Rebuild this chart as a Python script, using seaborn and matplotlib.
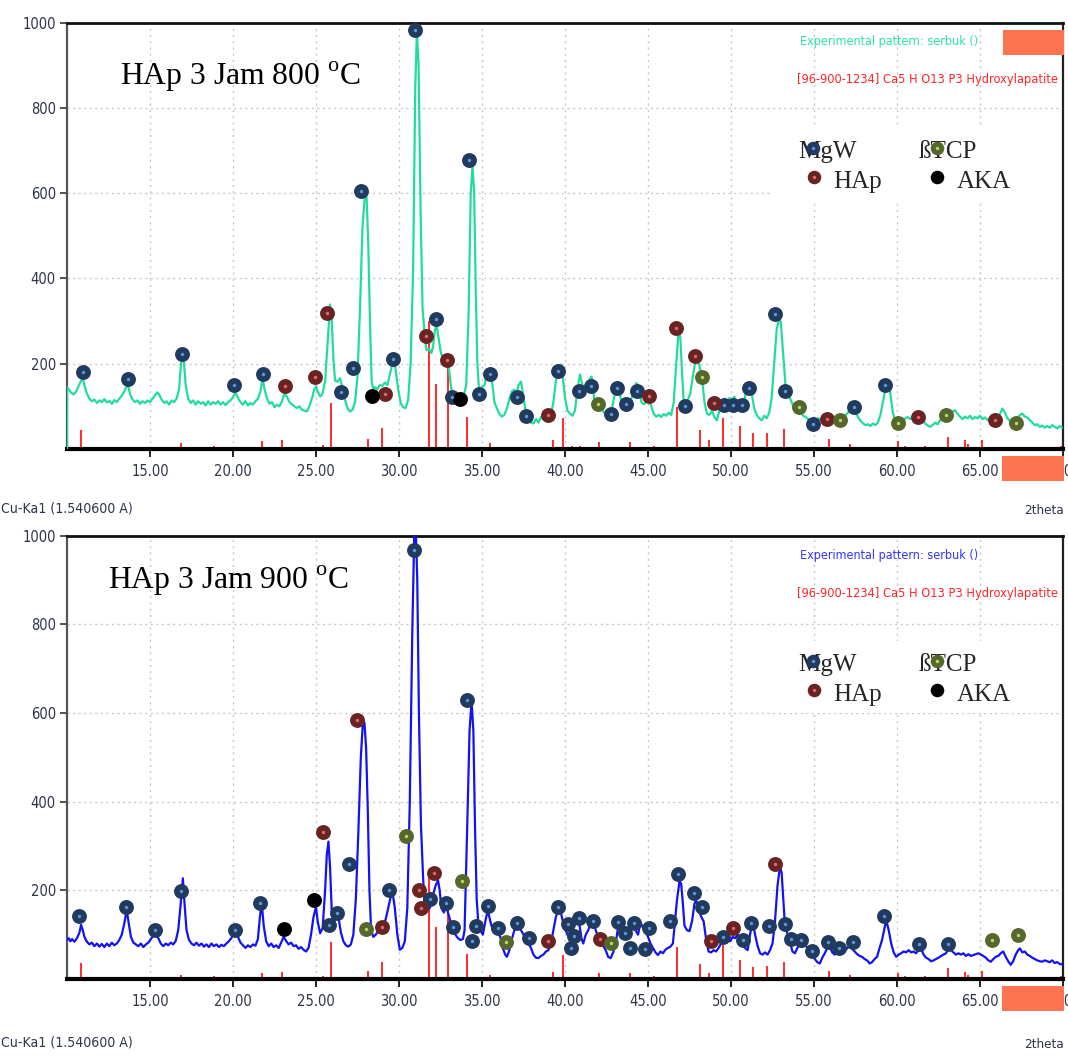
import matplotlib
matplotlib.use("Agg")
import matplotlib.pyplot as plt
import seaborn as sns
import pandas as pd
from matplotlib.patches import Rectangle
from matplotlib import font_manager
from matplotlib.font_manager import FontProperties

# ---------------------------------------------------------------- data
# Experimental pattern, 800 C (2theta, counts)
pattern_800 = [
    (10.00, 0), (10.01, 145), (10.10, 140), (10.25, 132), (10.40, 128), (10.55, 135),
    (10.70, 148), (10.85, 160), (10.95, 166), (11.05, 150), (11.20, 130), (11.35, 118),
    (11.50, 112), (11.65, 116), (11.80, 108), (11.95, 114), (12.10, 110), (12.25, 117),
    (12.40, 109), (12.55, 113), (12.70, 106), (12.85, 115), (13.00, 110), (13.15, 118),
    (13.30, 125), (13.45, 135), (13.60, 148), (13.70, 146), (13.80, 128), (13.95, 116),
    (14.10, 110), (14.25, 114), (14.40, 106), (14.55, 112), (14.70, 108), (14.85, 114),
    (15.00, 110), (15.15, 118), (15.30, 126), (15.45, 133), (15.55, 128), (15.70, 116),
    (15.85, 108), (16.00, 112), (16.15, 104), (16.30, 114), (16.45, 110), (16.60, 118),
    (16.75, 140), (16.85, 190), (16.95, 232), (17.05, 200), (17.15, 150), (17.30, 118),
    (17.45, 108), (17.60, 114), (17.75, 104), (17.90, 112), (18.05, 106), (18.20, 110),
    (18.35, 102), (18.50, 112), (18.65, 104), (18.80, 110), (18.95, 106), (19.10, 112),
    (19.25, 104), (19.40, 110), (19.55, 103), (19.70, 110), (19.85, 114), (20.00, 122),
    (20.15, 132), (20.30, 120), (20.45, 110), (20.60, 104), (20.75, 112), (20.90, 102),
    (21.05, 108), (21.20, 104), (21.35, 112), (21.50, 118), (21.65, 135), (21.78, 166),
    (21.90, 140), (22.05, 118), (22.20, 106), (22.35, 110), (22.50, 98), (22.65, 104),
    (22.80, 100), (22.95, 112), (23.10, 130), (23.25, 122), (23.40, 110), (23.55, 105),
    (23.70, 100), (23.85, 96), (24.00, 100), (24.15, 92), (24.30, 90), (24.45, 88),
    (24.60, 100), (24.75, 118), (24.90, 140), (25.00, 147), (25.10, 135), (25.25, 123),
    (25.40, 130), (25.55, 160), (25.70, 250), (25.85, 339), (25.95, 300), (26.05, 210),
    (26.15, 160), (26.30, 158), (26.45, 166), (26.60, 145), (26.75, 115), (26.90, 95),
    (27.05, 88), (27.20, 92), (27.35, 110), (27.50, 170), (27.65, 330), (27.80, 520),
    (27.95, 598), (28.05, 590), (28.15, 480), (28.25, 300), (28.35, 160), (28.45, 139),
    (28.55, 145), (28.70, 140), (28.85, 150), (29.00, 148), (29.15, 156), (29.30, 150),
    (29.45, 175), (29.60, 200), (29.70, 206), (29.80, 185), (29.95, 140), (30.10, 108),
    (30.25, 98), (30.40, 96), (30.55, 115), (30.70, 200), (30.85, 420), (30.98, 850),
    (31.08, 978), (31.18, 900), (31.30, 560), (31.42, 330), (31.55, 265), (31.65, 232),
    (31.80, 235), (31.95, 225), (32.05, 240), (32.15, 275), (32.25, 296), (32.35, 270),
    (32.50, 230), (32.65, 210), (32.85, 217), (33.00, 190), (33.15, 140), (33.30, 123),
    (33.45, 120), (33.60, 115), (33.75, 118), (33.90, 125), (34.05, 150), (34.20, 330),
    (34.32, 600), (34.43, 665), (34.53, 600), (34.62, 380), (34.72, 200), (34.82, 140),
    (35.00, 145), (35.15, 150), (35.30, 175), (35.45, 186), (35.60, 160), (35.75, 110),
    (35.90, 95), (36.05, 82), (36.20, 76), (36.35, 80), (36.50, 95), (36.65, 118),
    (36.80, 135), (36.95, 139), (37.05, 125), (37.20, 150), (37.35, 158), (37.50, 120),
    (37.65, 85), (37.80, 70), (37.95, 62), (38.10, 60), (38.25, 70), (38.40, 62),
    (38.55, 75), (38.70, 70), (38.85, 72), (39.00, 67), (39.15, 80), (39.30, 110),
    (39.45, 160), (39.60, 185), (39.75, 198), (39.85, 175), (40.00, 120), (40.15, 90),
    (40.30, 83), (40.45, 78), (40.60, 90), (40.75, 140), (40.90, 175), (41.05, 150),
    (41.20, 140), (41.35, 150), (41.50, 165), (41.60, 170), (41.75, 120), (41.90, 100),
    (42.05, 90), (42.20, 95), (42.35, 85), (42.50, 90), (42.65, 80), (42.80, 88),
    (42.95, 120), (43.10, 150), (43.25, 140), (43.40, 110), (43.55, 100), (43.70, 108),
    (43.85, 102), (44.00, 118), (44.15, 140), (44.30, 155), (44.45, 145), (44.60, 110),
    (44.75, 105), (44.90, 110), (45.05, 118), (45.20, 100), (45.35, 82), (45.50, 76),
    (45.65, 80), (45.80, 75), (45.95, 82), (46.10, 78), (46.25, 85), (46.40, 80),
    (46.55, 110), (46.70, 200), (46.85, 282), (46.95, 260), (47.05, 180), (47.15, 110),
    (47.25, 99), (47.40, 115), (47.55, 131), (47.70, 170), (47.85, 205), (47.97, 216),
    (48.10, 195), (48.25, 170), (48.40, 110), (48.55, 83), (48.70, 80), (48.85, 90),
    (49.00, 75), (49.15, 67), (49.30, 90), (49.45, 110), (49.60, 118), (49.75, 105),
    (49.90, 120), (50.05, 110), (50.20, 123), (50.35, 105), (50.50, 115), (50.65, 108),
    (50.80, 115), (50.95, 140), (51.10, 155), (51.25, 130), (51.40, 95), (51.55, 80),
    (51.70, 72), (51.85, 67), (52.00, 78), (52.15, 72), (52.30, 85), (52.45, 120),
    (52.60, 200), (52.75, 280), (52.90, 305), (53.00, 298), (53.15, 220), (53.30, 140),
    (53.45, 128), (53.60, 115), (53.75, 100), (53.90, 91), (54.05, 95), (54.20, 85),
    (54.35, 78), (54.50, 75), (54.65, 70), (54.80, 66), (54.95, 63), (55.10, 66),
    (55.25, 72), (55.40, 68), (55.55, 75), (55.70, 80), (55.85, 70), (56.00, 74),
    (56.15, 68), (56.30, 76), (56.45, 72), (56.60, 78), (56.75, 70), (56.90, 80),
    (57.05, 85), (57.20, 92), (57.35, 96), (57.50, 88), (57.65, 75), (57.80, 66),
    (57.95, 60), (58.10, 56), (58.25, 58), (58.40, 54), (58.55, 60), (58.70, 56),
    (58.85, 62), (59.00, 80), (59.15, 110), (59.30, 140), (59.45, 155), (59.60, 130),
    (59.75, 85), (59.90, 66), (60.05, 60), (60.20, 68), (60.35, 64), (60.50, 72),
    (60.65, 75), (60.80, 70), (60.95, 78), (61.10, 72), (61.25, 80), (61.40, 76),
    (61.55, 68), (61.70, 60), (61.85, 55), (62.00, 52), (62.15, 56), (62.30, 62),
    (62.45, 58), (62.60, 68), (62.75, 74), (62.90, 82), (63.05, 86), (63.20, 80),
    (63.35, 88), (63.50, 91), (63.65, 82), (63.80, 76), (63.95, 70), (64.10, 76),
    (64.25, 72), (64.40, 78), (64.55, 70), (64.70, 75), (64.85, 72), (65.00, 78),
    (65.15, 70), (65.30, 74), (65.45, 68), (65.60, 72), (65.75, 62), (65.90, 66),
    (66.05, 72), (66.20, 82), (66.35, 95), (66.50, 85), (66.65, 72), (66.80, 66),
    (66.95, 60), (67.10, 64), (67.25, 72), (67.40, 80), (67.55, 83), (67.70, 76),
    (67.85, 74), (68.00, 68), (68.15, 62), (68.30, 56), (68.45, 58), (68.60, 52),
    (68.75, 55), (68.90, 50), (69.05, 54), (69.20, 50), (69.35, 56), (69.50, 52),
    (69.65, 48), (69.80, 54), (69.95, 50),
]

# Experimental pattern, 900 C (2theta, counts)
pattern_900 = [
    (10.00, 88), (10.10, 92), (10.20, 85), (10.30, 90), (10.45, 84), (10.60, 92),
    (10.75, 105), (10.85, 122), (10.95, 110), (11.05, 95), (11.20, 84), (11.35, 78),
    (11.50, 82), (11.65, 74), (11.80, 80), (11.95, 73), (12.10, 79), (12.25, 72),
    (12.40, 80), (12.55, 74), (12.70, 82), (12.85, 76), (13.00, 80), (13.15, 88),
    (13.30, 100), (13.45, 125), (13.60, 156), (13.70, 130), (13.85, 95), (14.00, 82),
    (14.15, 78), (14.30, 74), (14.45, 80), (14.60, 72), (14.75, 78), (14.90, 82),
    (15.05, 90), (15.20, 98), (15.35, 103), (15.50, 92), (15.65, 80), (15.80, 74),
    (15.95, 80), (16.10, 76), (16.25, 82), (16.40, 78), (16.55, 86), (16.70, 110),
    (16.85, 170), (16.98, 227), (17.08, 170), (17.20, 110), (17.35, 88), (17.50, 80),
    (17.65, 76), (17.80, 82), (17.95, 75), (18.10, 80), (18.25, 73), (18.40, 78),
    (18.55, 72), (18.70, 80), (18.85, 74), (19.00, 78), (19.15, 72), (19.30, 77),
    (19.45, 74), (19.60, 80), (19.75, 85), (19.90, 92), (20.05, 105), (20.15, 110),
    (20.30, 95), (20.45, 82), (20.60, 76), (20.75, 70), (20.90, 76), (21.05, 72),
    (21.20, 78), (21.35, 75), (21.50, 90), (21.62, 140), (21.73, 171), (21.85, 120),
    (22.00, 85), (22.15, 74), (22.30, 80), (22.45, 72), (22.60, 76), (22.75, 70),
    (22.90, 82), (23.05, 95), (23.20, 86), (23.35, 78), (23.50, 82), (23.65, 74),
    (23.80, 76), (23.95, 68), (24.10, 72), (24.25, 66), (24.40, 62), (24.55, 70),
    (24.70, 100), (24.85, 140), (25.00, 163), (25.10, 130), (25.25, 103), (25.40, 115),
    (25.55, 200), (25.65, 280), (25.75, 310), (25.85, 250), (25.95, 150), (26.05, 125),
    (26.15, 135), (26.25, 148), (26.35, 140), (26.50, 105), (26.65, 85), (26.80, 76),
    (26.95, 73), (27.10, 78), (27.25, 100), (27.40, 180), (27.55, 330), (27.70, 500),
    (27.82, 575), (27.92, 578), (28.02, 520), (28.12, 380), (28.22, 200), (28.32, 110),
    (28.45, 95), (28.60, 100), (28.75, 108), (28.90, 115), (29.05, 118), (29.20, 135),
    (29.35, 160), (29.50, 185), (29.62, 193), (29.75, 160), (29.90, 100), (30.05, 66),
    (30.20, 70), (30.35, 85), (30.50, 160), (30.65, 400), (30.80, 780), (30.92, 1005),
    (31.02, 1005), (31.10, 900), (31.20, 600), (31.32, 350), (31.45, 230), (31.57, 150),
    (31.70, 155), (31.85, 160), (31.95, 175), (32.05, 190), (32.20, 210), (32.35, 223),
    (32.45, 200), (32.55, 160), (32.70, 150), (32.85, 163), (32.95, 150), (33.10, 130),
    (33.25, 110), (33.40, 100), (33.55, 92), (33.70, 88), (33.85, 90), (33.95, 110),
    (34.10, 330), (34.25, 560), (34.37, 625), (34.48, 560), (34.58, 340), (34.68, 180),
    (34.78, 125), (34.90, 110), (35.05, 100), (35.20, 130), (35.35, 156), (35.50, 130),
    (35.65, 110), (35.80, 115), (35.95, 105), (36.10, 95), (36.25, 70), (36.40, 55),
    (36.50, 50), (36.65, 65), (36.80, 90), (36.95, 110), (37.10, 133), (37.20, 128),
    (37.35, 110), (37.50, 100), (37.65, 90), (37.80, 80), (37.95, 70), (38.10, 55),
    (38.25, 48), (38.40, 47), (38.55, 52), (38.70, 55), (38.85, 62), (39.00, 65),
    (39.15, 80), (39.30, 110), (39.45, 140), (39.60, 156), (39.75, 150), (39.90, 125),
    (40.00, 114), (40.15, 100), (40.30, 95), (40.45, 110), (40.60, 130), (40.75, 140),
    (40.90, 115), (41.00, 90), (41.10, 80), (41.25, 100), (41.40, 110), (41.55, 125),
    (41.70, 133), (41.85, 110), (42.00, 95), (42.15, 85), (42.30, 75), (42.45, 65),
    (42.60, 50), (42.75, 47), (42.90, 60), (43.05, 80), (43.15, 105), (43.25, 126),
    (43.35, 110), (43.50, 95), (43.65, 110), (43.80, 105), (43.95, 118), (44.10, 126),
    (44.25, 110), (44.40, 100), (44.55, 128), (44.70, 115), (44.85, 110), (45.00, 95),
    (45.15, 80), (45.30, 70), (45.45, 60), (45.60, 54), (45.75, 62), (45.90, 58),
    (46.05, 66), (46.20, 70), (46.35, 73), (46.50, 80), (46.60, 120), (46.75, 180),
    (46.90, 220), (47.00, 215), (47.10, 170), (47.20, 120), (47.35, 110), (47.50, 108),
    (47.65, 130), (47.80, 170), (47.90, 178), (48.05, 155), (48.20, 141), (48.35, 130),
    (48.50, 90), (48.65, 62), (48.80, 60), (48.95, 65), (49.10, 62), (49.25, 70),
    (49.40, 80), (49.50, 95), (49.65, 85), (49.80, 90), (49.95, 85), (50.10, 95),
    (50.25, 92), (50.40, 100), (50.55, 90), (50.70, 78), (50.85, 70), (51.00, 65),
    (51.15, 100), (51.30, 133), (51.45, 100), (51.60, 75), (51.75, 58), (51.90, 55),
    (52.05, 60), (52.20, 55), (52.35, 65), (52.50, 80), (52.65, 130), (52.80, 210),
    (52.95, 253), (53.05, 240), (53.15, 180), (53.25, 120), (53.40, 103), (53.55, 85),
    (53.70, 62), (53.85, 58), (54.00, 70), (54.15, 80), (54.30, 72), (54.45, 78),
    (54.60, 70), (54.75, 65), (54.90, 55), (55.05, 45), (55.20, 38), (55.35, 35),
    (55.50, 48), (55.65, 58), (55.80, 70), (55.95, 73), (56.10, 60), (56.25, 55),
    (56.40, 62), (56.55, 68), (56.70, 58), (56.85, 62), (57.00, 70), (57.15, 73),
    (57.30, 68), (57.45, 62), (57.60, 56), (57.75, 52), (57.90, 50), (58.05, 45),
    (58.20, 42), (58.35, 35), (58.50, 38), (58.65, 45), (58.80, 50), (58.95, 70),
    (59.10, 88), (59.25, 115), (59.35, 133), (59.50, 110), (59.65, 80), (59.80, 60),
    (59.95, 50), (60.10, 55), (60.25, 58), (60.40, 62), (60.55, 60), (60.70, 65),
    (60.85, 60), (61.00, 62), (61.15, 58), (61.30, 66), (61.45, 69), (61.60, 55),
    (61.75, 48), (61.90, 45), (62.05, 40), (62.20, 42), (62.35, 45), (62.50, 48),
    (62.65, 52), (62.80, 55), (62.95, 58), (63.10, 69), (63.25, 65), (63.40, 60),
    (63.55, 55), (63.70, 58), (63.85, 55), (64.00, 58), (64.15, 52), (64.30, 56),
    (64.45, 52), (64.60, 54), (64.75, 56), (64.90, 58), (65.05, 55), (65.20, 52),
    (65.35, 48), (65.50, 42), (65.65, 39), (65.80, 45), (65.95, 50), (66.10, 52),
    (66.25, 58), (66.40, 62), (66.55, 50), (66.70, 40), (66.85, 32), (67.00, 40),
    (67.15, 55), (67.30, 65), (67.40, 69), (67.55, 60), (67.70, 62), (67.85, 55),
    (68.00, 52), (68.15, 48), (68.30, 45), (68.45, 42), (68.60, 40), (68.75, 39),
    (68.90, 42), (69.05, 40), (69.20, 38), (69.35, 42), (69.50, 36), (69.65, 38),
    (69.80, 34), (69.95, 33),
]

# Reference sticks [96-900-1234] Hydroxylapatite: positions and drawn heights
hap_ref_pos = [10.84, 16.87, 18.86, 21.77, 22.93, 25.40, 25.88, 28.15, 28.95, 31.80,
               32.22, 32.95, 34.10, 35.50, 38.20, 39.25, 39.85, 40.45, 40.90, 42.05,
               43.90, 45.35, 46.72, 48.12, 48.65, 49.52, 50.55, 51.30, 52.15, 53.20,
               55.90, 57.15, 58.10, 60.05, 60.50, 61.70, 63.05, 64.10, 64.30, 65.10,
               66.40, 67.40, 68.50, 69.85]
hap_ref_800 = [45, 13, 8, 18, 20, 9, 107, 24, 50, 300,
               152, 194, 74, 13, 5, 20, 72, 6, 6, 16,
               16, 8, 98, 44, 21, 72, 53, 37, 37, 48,
               24, 12, 5, 18, 8, 8, 28, 20, 12, 22,
               5, 5, 5, 8]
hap_ref_900 = [35, 10, 6, 14, 16, 7, 83, 19, 39, 235,
               118, 155, 56, 10, 4, 16, 54, 5, 5, 13,
               13, 6, 73, 34, 14, 77, 43, 28, 29, 39,
               19, 10, 4, 14, 6, 6, 24, 16, 10, 17,
               4, 4, 4, 6]

# Phase markers, 800 C (2theta, counts)
mgw_800 = [(10.94, 180), (13.65, 164), (16.95, 223), (20.06, 151), (21.83, 176),
           (26.50, 134), (27.25, 191), (27.70, 605), (29.66, 211), (30.98, 983),
           (32.20, 305), (33.17, 121), (34.20, 678), (34.84, 129), (35.48, 176),
           (37.09, 121), (37.63, 78), (39.55, 183), (40.85, 137), (41.55, 147),
           (42.80, 81), (43.15, 144), (43.70, 105), (44.35, 137), (47.25, 101),
           (49.56, 103), (50.10, 103), (50.66, 103), (51.10, 144), (52.65, 317),
           (53.25, 135), (54.95, 58), (57.40, 98), (59.25, 151)]
hap_800 = [(23.13, 147), (24.94, 169), (25.68, 318), (29.16, 129), (31.60, 264),
           (32.87, 209), (39.00, 80), (45.07, 125), (46.69, 284), (47.83, 217),
           (49.00, 107), (55.76, 71), (61.28, 75), (65.90, 67)]
tcp_800 = [(41.97, 106), (48.28, 168), (54.12, 98), (56.56, 67), (60.08, 60),
           (62.98, 79), (67.18, 61)]
aka_800 = [(28.35, 125), (33.67, 117)]

# Phase markers, 900 C (2theta, counts)
mgw_900 = [(10.74, 141), (13.53, 163), (15.30, 110), (16.85, 198), (20.15, 110),
           (21.62, 172), (25.80, 121), (26.24, 148), (26.97, 259), (29.40, 200),
           (30.90, 968), (31.87, 180), (32.81, 172), (33.23, 118), (34.08, 630),
           (34.37, 86), (34.64, 120), (35.34, 165), (35.94, 116), (37.13, 127),
           (37.83, 92), (39.55, 163), (40.16, 124), (40.36, 69), (40.56, 97),
           (40.86, 137), (41.70, 131), (43.20, 128), (43.63, 103), (43.92, 69),
           (44.14, 127), (44.80, 67), (45.08, 114), (46.35, 130), (46.80, 236),
           (47.80, 195), (48.25, 162), (49.50, 95), (50.74, 89), (51.20, 126),
           (52.27, 120), (53.25, 123), (53.60, 91), (54.20, 88), (54.86, 64),
           (55.82, 83), (56.50, 71), (57.33, 83), (59.20, 143), (61.30, 78),
           (63.10, 79)]
hap_900 = [(25.44, 331), (27.45, 584), (28.96, 118), (31.20, 200), (31.33, 160),
           (32.13, 238), (38.96, 86), (42.13, 91), (48.80, 86), (50.14, 114),
           (52.67, 259)]
tcp_900 = [(28.00, 112), (30.44, 322), (33.78, 221), (36.43, 84), (42.77, 82),
           (65.72, 89), (67.30, 100)]
aka_900 = [(23.07, 113), (24.88, 178)]

x_ticks = [15, 20, 25, 30, 35, 40, 45, 50, 55, 60, 65, 70]
y_ticks = [200, 400, 600, 800, 1000]
panel_titles = ["800", "900"]
pattern_label = "Experimental pattern: serbuk ()"
reference_label = "[96-900-1234] Ca5 H O13 P3 Hydroxylapatite"
phase_names = ["MgW", "\u00dfTCP", "HAp", "AKA"]

# ---------------------------------------------------------------- fonts
sns.set_style("white")
plt.rcParams["font.family"] = ["Liberation Sans", "DejaVu Sans"]
plt.rcParams["mathtext.fontset"] = "custom"
plt.rcParams["mathtext.rm"] = "Liberation Serif"
SERIF = ["Liberation Serif", "DejaVu Serif"]

# prefer a narrow sans face for the instrument-style labels
narrow_path = None
for f in font_manager.fontManager.ttflist:
    fn = f.fname.lower()
    if ("sansnarrow-regular" in fn or "sans-narrow" in fn or "sanscondensed.ttf" in fn
            or "arialn.ttf" in fn):
        narrow_path = f.fname
        break
if narrow_path:
    def ui_font(size):
        return FontProperties(fname=narrow_path, size=size)
    tick_size, pat_size, ref_size, caption_size, theta_size = 10.5, 9.0, 9.2, 10.1, 9.6
else:
    def ui_font(size):
        return FontProperties(family=["Liberation Sans", "DejaVu Sans"], size=size)
    tick_size, pat_size, ref_size, caption_size, theta_size = 9.2, 8.3, 8.5, 9.2, 8.8

W, H = 1068, 1056
fig = plt.figure(figsize=(W / 100, H / 100), dpi=100)


def fpt(x, y):
    """Figure coordinates from pixel coordinates measured from the top-left."""
    return x / W, 1 - y / H


phase_style = {
    "MgW": ("#213a60", "#5b9ad8"),
    "TCP": ("#56672b", "#b8d86c"),
    "HAp": ("#6a2323", "#e46a6a"),
    "AKA": ("#000000", None),
}

panels = [
    dict(pattern=pattern_800, ref=hap_ref_800, mgw=mgw_800, hap=hap_800, tcp=tcp_800,
         aka=aka_800, color="#22dd99", text_color="#2be4a4", top=22.7, bottom=449,
         dy=0, title_xy=(120, 85), top_rect=True, cap_y=508),
    dict(pattern=pattern_900, ref=hap_ref_900, mgw=mgw_900, hap=hap_900, tcp=tcp_900,
         aka=aka_900, color="#1212f5", text_color="#3434ff", top=535.5, bottom=979,
         dy=513, title_xy=(108, 589), top_rect=False, cap_y=1043),
]

for i, p in enumerate(panels):
    x0, y0 = fpt(67, p["bottom"])
    ax = fig.add_axes([x0, y0, (1063 - 67) / W, (p["bottom"] - p["top"]) / H])
    ax.set_xlim(10, 70)
    ax.set_ylim(0, 1000)

    # grid
    for gx in x_ticks[:-1]:
        ax.axvline(gx, color="#c8c8c8", lw=1.0, ls=(0, (1.5, 3)), zorder=0)
    for gy in y_ticks[:-1]:
        ax.axhline(gy, color="#c8c8c8", lw=1.0, ls=(0, (1.5, 2.5)), zorder=0)

    # white backing behind the phase key
    ax.add_patch(Rectangle(fpt(772, 200 + p["dy"]), (1062 - 772) / W, 72 / H,
                           transform=fig.transFigure, facecolor="white",
                           edgecolor="none", zorder=1))

    # reference sticks
    ax.vlines(hap_ref_pos, 0, p["ref"], color="#ff1a1a", lw=1.3, zorder=2)

    # experimental pattern
    df = pd.DataFrame(p["pattern"], columns=["two_theta", "counts"])
    sns.lineplot(data=df, x="two_theta", y="counts", sort=False, estimator=None,
                 color=p["color"], lw=1.6, ax=ax, zorder=3)

    # phase markers
    for key, pts in (("MgW", p["mgw"]), ("HAp", p["hap"]), ("TCP", p["tcp"]), ("AKA", p["aka"])):
        mdf = pd.DataFrame(pts, columns=["two_theta", "counts"])
        outer, inner = phase_style[key]
        sns.scatterplot(data=mdf, x="two_theta", y="counts", color=outer, s=115,
                        linewidth=0, ax=ax, zorder=5)
        if inner:
            sns.scatterplot(data=mdf, x="two_theta", y="counts", color=inner, s=6,
                            linewidth=0, ax=ax, zorder=6)

    # axes decoration
    ax.set_xlabel("")
    ax.set_ylabel("")
    ax.set_xticks(x_ticks)
    ax.set_xticklabels([f"{t:.2f}" for t in x_ticks], fontproperties=ui_font(tick_size))
    ax.set_yticks(y_ticks)
    ax.set_yticklabels([str(t) for t in y_ticks], fontproperties=ui_font(tick_size))
    ax.tick_params(axis="x", direction="out", length=6, width=1.3, color="#111111",
                   labelcolor="#2e3448", pad=5, bottom=True)
    ax.tick_params(axis="y", direction="out", length=5, width=1.2, color="#333333",
                   labelcolor="#2e3448", pad=3, left=True)
    for side, lw, col in (("bottom", 3.0, "#000000"), ("top", 2.0, "#111111"),
                          ("left", 1.6, "#555555"), ("right", 1.6, "#222222")):
        ax.spines[side].set_visible(True)
        ax.spines[side].set_linewidth(lw)
        ax.spines[side].set_color(col)
    ax.set_facecolor("white")

    # sample title
    tx, ty = p["title_xy"]
    fig.text(*fpt(tx, ty), f"HAp 3 Jam {panel_titles[i]} $^{{\\mathrm{{o}}}}$C",
             fontsize=22.8, family=SERIF, va="baseline", ha="left", color="#000000")

    # pattern / reference legend
    fig.text(*fpt(800, 42 + p["dy"]), pattern_label, fontproperties=ui_font(pat_size),
             color=p["text_color"], va="center", ha="left")
    fig.text(*fpt(797, 80 + p["dy"]), reference_label, fontproperties=ui_font(ref_size),
             color="#ff2626", va="center", ha="left")

    # phase key
    ky = 148 + p["dy"]
    fig.text(*fpt(798, ky + 10), phase_names[0], fontsize=18, family=SERIF,
             va="baseline", ha="left", zorder=7)
    fig.text(*fpt(919, ky + 10), phase_names[1], fontsize=18, family=SERIF,
             va="baseline", ha="left", zorder=7)
    fig.text(*fpt(833, ky + 40), phase_names[2], fontsize=18, family=SERIF,
             va="baseline", ha="left", zorder=7)
    fig.text(*fpt(957, ky + 40), phase_names[3], fontsize=18, family=SERIF,
             va="baseline", ha="left", zorder=7)
    key_pts = [("MgW", 813, ky), ("TCP", 937, ky), ("HAp", 814, ky + 29), ("AKA", 937, ky + 29)]
    kax = fig.add_axes([0, 0, 1, 1], facecolor="none", zorder=8)
    kax.set_xlim(0, W)
    kax.set_ylim(H, 0)
    kax.axis("off")
    for key, kx, kyy in key_pts:
        outer, inner = phase_style[key]
        kax.scatter([kx], [kyy], s=95, color=outer, linewidths=0)
        if inner:
            kax.scatter([kx], [kyy], s=6, color=inner, linewidths=0)

    # orange blocks of the pattern window
    if p["top_rect"]:
        kax.add_patch(Rectangle((1003, 30 + p["dy"]), 61, 25, facecolor="#ff7450",
                                edgecolor="none"))
    kax.add_patch(Rectangle((1002, p["bottom"] + 7), 62, 25,
                            facecolor="#ff7450", edgecolor="none"))

    # axis captions
    fig.text(*fpt(1, p["cap_y"]), "Cu-Ka1 (1.540600 A)",
             fontproperties=ui_font(caption_size), color="#2e3448", va="center", ha="left")
    fig.text(*fpt(1064, p["cap_y"] + 2), "2theta",
             fontproperties=ui_font(theta_size), color="#2e3448", va="center", ha="right")

fig.savefig("out.png", dpi=100, facecolor="white")
